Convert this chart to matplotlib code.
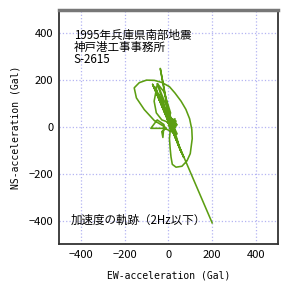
import numpy as np
import matplotlib.pyplot as plt

plt.rcParams['font.family'] = ['Noto Sans CJK JP', 'DejaVu Sans']

# trajectory (EW, NS in Gal)
ew = [10, 25, 5, 30, 15, 0, 20, 35, 8, 22, -5, 28, 12,
      -37, 5,
      -72, 45, -60, 35, -45, 40,
      -18, -80, -51, -20, -25, -30, -10,
      -18, -64, -110, -146, -156, -133, -100, -64, -30, 5, 30, 58, 80, 97,
      107, 109, 100, 85, 62, 35, 18, 12, 8, 5, 10,
      -50, -65, -55, -30, 0, 10, -20, -50,
      20, 40, 15, 30, 0, 25, 35, 10, 18, 28, 5,
      -65, 70, -55, 60, -45, 55, 20, 15,
      -72, 200]
ns = [10, 20, -5, 5, 30, 15, -10, 25, 40, 0, 20, -15, 10,
      250, 30,
      182, -70, 170, -50, 140, -30,
      -6, -6, 30, 10, -45, -20, -5,
      1, 27, 74, 124, 167, 189, 200, 199, 190, 172, 145, 110, 75, 35,
      -10, -50, -114, -145, -168, -172, -160, -128, -90, -50, 0,
      185, 110, 60, 30, 20, 60, 150, 185,
      20, 10, -20, 35, 5, -10, 15, 30, 0, -25, 10,
      170, -130, 150, -110, 140, -100, 10, 20,
      182, -410]

x_ticks = [-400, -200, 0, 200, 400]
y_ticks = [-400, -200, 0, 200, 400]

title_lines = '1995年兵庫県南部地震\n神戸港工事事務所\nS-2615'
note = '加速度の軌跡（2Hz以下）'

fig = plt.figure(figsize=(3.02, 2.83), dpi=100)
ax = fig.add_axes([0.195, 0.138, 0.725, 0.827])

ax.plot(ew, ns, color='#5c9e12', linewidth=1.15, zorder=3)

ax.set_xlim(-500, 500)
ax.set_ylim(-500, 500)
ax.set_xticks(x_ticks)
ax.set_yticks(y_ticks)
ax.tick_params(length=0, labelsize=8, pad=4)
ax.grid(color='#b4b4f2', linestyle=':', linewidth=0.9)

for side in ['left', 'right', 'bottom']:
    ax.spines[side].set_color('#333333')
    ax.spines[side].set_linewidth(1.3)
ax.spines['top'].set_color('#777777')
ax.spines['top'].set_linewidth(2.5)

ax.set_xlabel('EW-acceleration (Gal)', family=['DejaVu Sans Mono'], fontsize=7, labelpad=8)
ax.set_ylabel('NS-acceleration (Gal)', family=['DejaVu Sans Mono'], fontsize=7, labelpad=6)

ax.text(-432, 420, title_lines, fontsize=8.3, va='top', ha='left', linespacing=0.92)
ax.text(-446, -400, note, fontsize=8.3, va='center', ha='left')

fig.savefig('out.png', dpi=100)
